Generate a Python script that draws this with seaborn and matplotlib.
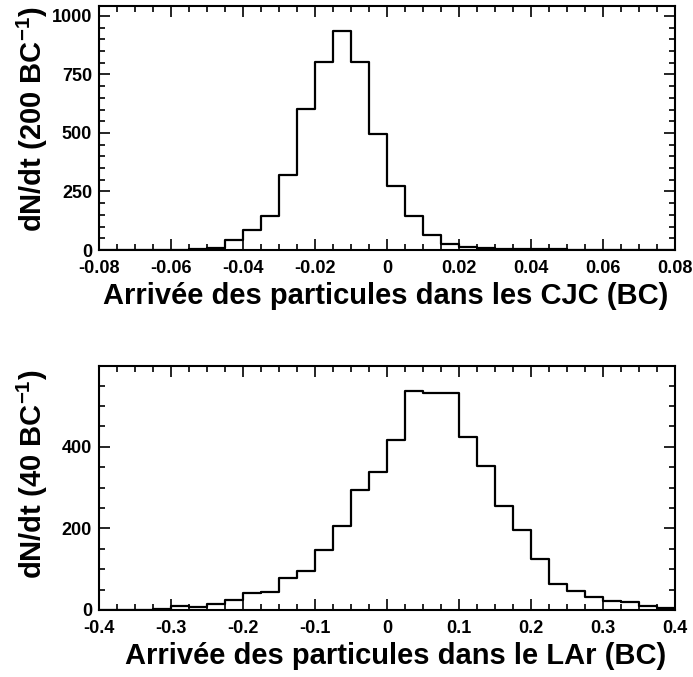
import numpy as np
import pandas as pd
import matplotlib
matplotlib.use('Agg')
import matplotlib.pyplot as plt
from matplotlib.ticker import MultipleLocator, FuncFormatter
import seaborn as sns

# CJC arrival times: 200 bins per BC, from -0.08 to 0.08
cjc_edges = np.linspace(-0.08, 0.08, 33)
cjc_counts = [0, 0, 1, 1, 2, 4, 7, 41, 84, 145, 320, 603, 804, 936, 804, 495,
              272, 144, 63, 24, 11, 7, 4, 3, 5, 3, 2, 2, 1, 1, 0, 0]

# LAr arrival times: 40 bins per BC, from -0.4 to 0.4
lar_edges = np.linspace(-0.4, 0.4, 33)
lar_counts = [0, 0, 1, 2, 10, 7, 15, 24, 42, 44, 79, 95, 146, 206, 294, 338,
              416, 537, 531, 531, 423, 353, 256, 197, 126, 64, 47, 32, 23, 20, 9, 5]

sns.set_style('ticks')
plt.rcParams['font.family'] = ['Liberation Sans', 'DejaVu Sans']
plt.rcParams['font.weight'] = 'bold'
plt.rcParams['axes.unicode_minus'] = False
plt.rcParams['mathtext.fontset'] = 'custom'
plt.rcParams['mathtext.rm'] = 'Liberation Sans:bold'
plt.rcParams['mathtext.bf'] = 'Liberation Sans:bold'
plt.rcParams['mathtext.default'] = 'bf'
for key in ['text.color', 'axes.labelcolor', 'xtick.color', 'ytick.color', 'axes.edgecolor']:
    plt.rcParams[key] = 'black'

fig = plt.figure(figsize=(6.93, 6.77), dpi=100)
ax1 = fig.add_axes([0.1429, 0.6307, 0.8311, 0.3604])
ax2 = fig.add_axes([0.1429, 0.0990, 0.8311, 0.3604])

fmt = FuncFormatter(lambda v, p: f'{v:g}')


def draw(ax, edges, counts, xmajor, xminor, ymajor, yminor, ymax, xlabel, ylabel):
    df = pd.DataFrame({'t': (edges[:-1] + edges[1:]) / 2, 'n': counts})
    sns.histplot(data=df, x='t', weights='n', bins=list(edges), element='step',
                 fill=False, color='black', linewidth=1.6, ax=ax)
    ax.set_xlim(edges[0], edges[-1])
    ax.set_ylim(0, ymax)
    ax.xaxis.set_major_locator(MultipleLocator(xmajor))
    ax.xaxis.set_minor_locator(MultipleLocator(xminor))
    ax.yaxis.set_major_locator(MultipleLocator(ymajor))
    ax.yaxis.set_minor_locator(MultipleLocator(yminor))
    ax.xaxis.set_major_formatter(fmt)
    ax.yaxis.set_major_formatter(fmt)
    ax.tick_params(which='both', direction='in', top=True, right=True, width=1.2)
    ax.tick_params(which='major', length=8, labelsize=13)
    ax.tick_params(axis='x', which='major', pad=7.5)
    ax.tick_params(axis='y', which='major', pad=5)
    ax.tick_params(which='minor', length=4.5)
    for s in ax.spines.values():
        s.set_linewidth(1.5)
    for lab in ax.get_xticklabels() + ax.get_yticklabels():
        lab.set_fontweight('bold')
    ax.set_xlabel(xlabel, fontsize=21, fontweight='bold', loc='right')
    ax.set_ylabel(ylabel, fontsize=21, fontweight='bold', loc='top')


draw(ax1, cjc_edges, cjc_counts, 0.02, 0.005, 250, 50, 1042,
     'Arrivée des particules dans les CJC (BC)', r'dN/dt (200 BC$^{-1}$)')
draw(ax2, lar_edges, lar_counts, 0.1, 0.025, 200, 50, 598,
     'Arrivée des particules dans le LAr (BC)', r'dN/dt (40 BC$^{-1}$)')

ax1.xaxis.set_label_coords(0.988, -0.13)
ax2.xaxis.set_label_coords(0.985, -0.13)
ax1.yaxis.set_label_coords(-0.085, 1.0)
ax2.yaxis.set_label_coords(-0.085, 0.985)

fig.savefig('out.png', dpi=100)
